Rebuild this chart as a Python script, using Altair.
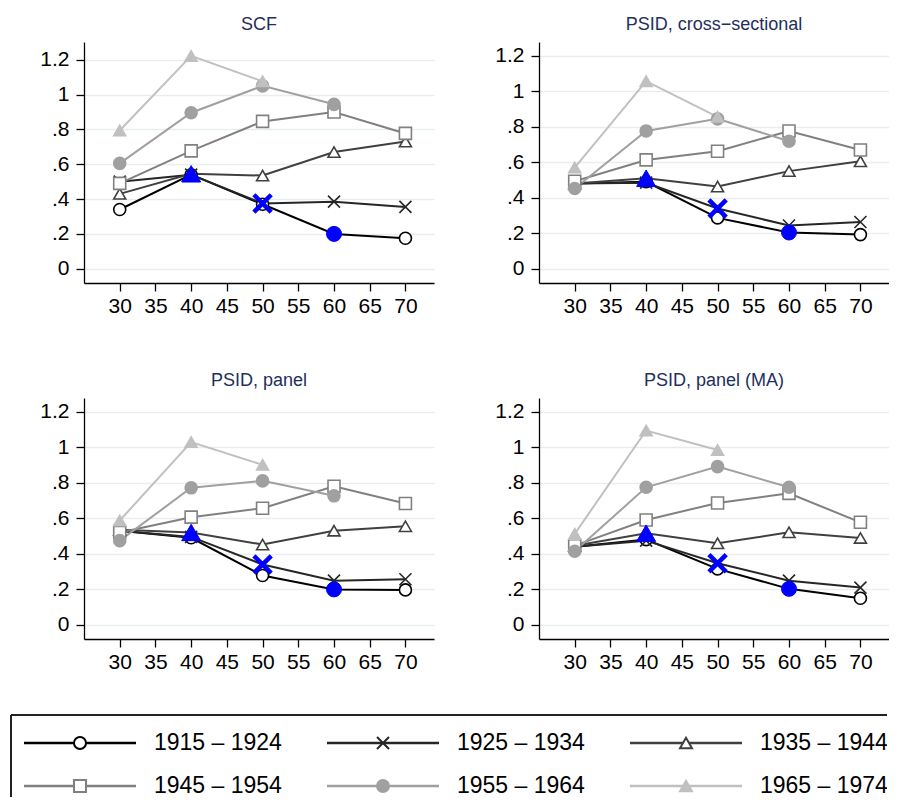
import altair as alt
import pandas as pd

# ---------------- data ----------------
ages = [30, 40, 50, 60, 70]
cohorts = ["1915 – 1924", "1925 – 1934", "1935 – 1944",
           "1945 – 1954", "1955 – 1964", "1965 – 1974"]
titles = ["SCF", "PSID, cross−sectional", "PSID, panel", "PSID, panel (MA)"]

scf = [
    [0.34, 0.54, 0.37, 0.20, 0.175],
    [0.50, 0.54, 0.375, 0.385, 0.355],
    [0.43, 0.545, 0.535, 0.67, 0.73],
    [0.49, 0.677, 0.846, 0.90, 0.777],
    [0.605, 0.896, 1.05, 0.944, None],
    [0.794, 1.222, 1.076, None, None],
]
psid_cs = [
    [0.48, 0.49, 0.287, 0.205, 0.193],
    [0.48, 0.485, 0.34, 0.244, 0.264],
    [0.48, 0.51, 0.463, 0.55, 0.605],
    [0.493, 0.613, 0.662, 0.776, 0.669],
    [0.452, 0.776, 0.844, 0.718, None],
    [0.57, 1.056, 0.855, None, None],
]
psid_panel = [
    [0.53, 0.49, 0.278, 0.20, 0.197],
    [0.53, 0.495, 0.34, 0.249, 0.257],
    [0.535, 0.52, 0.452, 0.53, 0.555],
    [0.52, 0.606, 0.656, 0.78, 0.683],
    [0.474, 0.771, 0.81, 0.726, None],
    [0.587, 1.028, 0.90, None, None],
]
psid_ma = [
    [0.44, 0.48, 0.315, 0.203, 0.15],
    [0.44, 0.474, 0.347, 0.249, 0.21],
    [0.445, 0.516, 0.459, 0.521, 0.489],
    [0.446, 0.59, 0.686, 0.74, 0.577],
    [0.414, 0.774, 0.89, 0.774, None],
    [0.512, 1.093, 0.984, None, None],
]
tables = [scf, psid_cs, psid_panel, psid_ma]

highlight_cohorts = ["1935 – 1944", "1925 – 1934", "1915 – 1924"]
highlight_ages = [40, 50, 60]

x_ticks = [30, 35, 40, 45, 50, 55, 60, 65, 70]
y_ticks = [0, 0.2, 0.4, 0.6, 0.8, 1.0, 1.2]

# ---------------- styles ----------------
X_PATH = "M-1,-1L1,1M-1,1L1,-1"
line_colors = ["#000000", "#262626", "#404040", "#808080", "#a0a0a0", "#c0c0c0"]
shapes = ["circle", X_PATH, "triangle-up", "square", "circle", "triangle-up"]
fills = ["#ffffff", "#262626", "#ffffff", "#ffffff", "#a0a0a0", "#c0c0c0"]
sizes = [144, 144, 225, 144, 156, 256]
legend_sizes = [196, 225, 324, 196, 256, 400]
hl_shapes = ["triangle-up", X_PATH, "circle"]
hl_sizes = [361, 300, 225]
hl_stroke = [1, 4.5, 1]
y_domains = [[-0.082, 1.302], [-0.079, 1.276], [-0.079, 1.276], [-0.079, 1.276]]

FONT = "Liberation Sans"
PW, PH = 350, 241

stroke_scale = alt.Scale(domain=cohorts, range=line_colors)
shape_scale = alt.Scale(domain=cohorts, range=shapes)
fill_scale = alt.Scale(domain=cohorts, range=fills)

ylab = "datum.value > 0 && datum.value < 1 ? '.' + round(datum.value * 10) : format(datum.value, '.1~f')"


def panel(idx):
    rows = []
    for cohort, vals in zip(cohorts, tables[idx]):
        for age, v in zip(ages, vals):
            if v is not None:
                rows.append({"cohort": cohort, "age": age, "value": v})
    df = pd.DataFrame(rows)
    x = alt.X("age:Q", scale=alt.Scale(domain=[25, 74], nice=False, zero=False),
              axis=alt.Axis(values=x_ticks, grid=False, title=None, format="d",
                            labelPadding=4, labelOverlap=False))
    y = alt.Y("value:Q", scale=alt.Scale(domain=y_domains[idx], nice=False, zero=False),
              axis=alt.Axis(values=y_ticks, labelExpr=ylab, labelPadding=7, title=None,
                            labelOverlap=False))
    base = alt.Chart(df)
    lines = base.mark_line(strokeWidth=2).encode(
        x=x, y=y,
        stroke=alt.Stroke("cohort:N", scale=stroke_scale, legend=None),
        detail="cohort:N", order="age:Q")
    pts = base.mark_point(filled=True, opacity=1, strokeWidth=1.6).encode(
        x=x, y=y,
        shape=alt.Shape("cohort:N", scale=shape_scale, legend=None),
        fill=alt.Fill("cohort:N", scale=fill_scale, legend=None),
        stroke=alt.Stroke("cohort:N", scale=stroke_scale, legend=None),
        size=alt.Size("cohort:N", scale=alt.Scale(domain=cohorts, range=sizes), legend=None))
    layers = [lines, pts]
    for c, a, shp, sz, sw in zip(highlight_cohorts, highlight_ages, hl_shapes, hl_sizes, hl_stroke):
        layers.append(
            base.transform_filter((alt.datum.cohort == c) & (alt.datum.age == a))
            .mark_point(filled=True, opacity=1, fill="#0000ff", stroke="#0000ff",
                        strokeWidth=sw, shape=shp, size=sz)
            .encode(x=x, y=y))
    return alt.layer(*layers).properties(
        width=PW, height=PH,
        title=alt.TitleParams(titles[idx], anchor="middle", frame="group"))


row1 = alt.hconcat(panel(0), panel(1), spacing=60)
row2 = alt.hconcat(panel(2), panel(3), spacing=60)
grid = alt.vconcat(row1, row2, spacing=56)

# ---------------- legend ----------------
LX0 = -73          # legend box left edge, relative to the panels' plot origin
LW, LH = 803, 82
leg_df = pd.DataFrame({
    "cohort": cohorts,
    "col": [i % 3 for i in range(len(cohorts))],
    "row": [i // 3 for i in range(len(cohorts))],
})
lx = alt.X("col:Q", scale=alt.Scale(domain=[0, 3], range=[LX0, LX0 + 909]), axis=None)
ly = alt.Y("row:Q", scale=alt.Scale(domain=[0, 1], range=[28, 71]), axis=None)
lbase = alt.Chart(leg_df)
leg_lines = lbase.mark_rule(strokeWidth=2.3, xOffset=13, x2Offset=125).encode(
    x=lx, x2="col:Q", y=ly,
    stroke=alt.Stroke("cohort:N", scale=stroke_scale, legend=None))
leg_pts = lbase.mark_point(filled=True, opacity=1, strokeWidth=2, xOffset=69).encode(
    x=lx, y=ly,
    shape=alt.Shape("cohort:N", scale=shape_scale, legend=None),
    fill=alt.Fill("cohort:N", scale=fill_scale, legend=None),
    stroke=alt.Stroke("cohort:N", scale=stroke_scale, legend=None),
    size=alt.Size("cohort:N", scale=alt.Scale(domain=cohorts, range=legend_sizes), legend=None))
leg_text = lbase.mark_text(
    align="left", baseline="middle", dx=143, fontSize=23, font=FONT, color="black", clip=True
).encode(x=lx, y=ly, text="cohort:N")
box_top = lbase.mark_rule(color="#222222", strokeWidth=1.3).encode(
    x=alt.value(LX0), x2=alt.value(LW), y=alt.value(0))
box_left = lbase.mark_rule(color="#222222", strokeWidth=1.3).encode(
    x=alt.value(LX0), y=alt.value(0), y2=alt.value(LH))
legend = alt.layer(box_top, box_left, leg_lines, leg_pts, leg_text).properties(
    width=LW, height=LH)

chart = (
    alt.vconcat(grid, legend, spacing=42)
    .properties(padding={"left": 2, "top": 8, "right": 0, "bottom": 0})
    .configure_view(stroke=None)
    .configure_axis(domainColor="black", domainWidth=1.3, tickColor="black", tickWidth=1.3,
                    tickSize=8, labelFont=FONT, labelFontSize=21, labelColor="black",
                    gridColor="#e6eef1", gridWidth=1.5)
    .configure_title(font=FONT, fontSize=18, fontWeight="normal", color="#1f2f5c", offset=8)
)
chart.save("out.html", embed_options={"renderer": "svg", "actions": False})
